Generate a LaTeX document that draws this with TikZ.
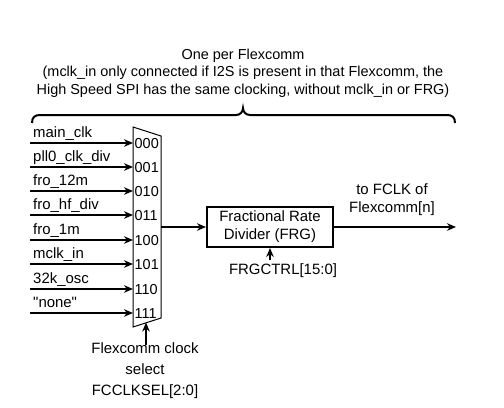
\documentclass[tikz,border=0pt]{standalone}
\usepackage{fontspec}
\setmainfont{Liberation Sans}
\usetikzlibrary{arrows.meta}
\begin{document}
\begin{tikzpicture}[x=1bp,y=-1bp,
  txt/.style={font=\fontsize{14.5}{17.5}\selectfont, inner sep=0pt},
  inlbl/.style={font=\fontsize{15}{18}\selectfont, inner sep=0pt, anchor=base west},
  sel/.style={txt, anchor=west},
  sig/.style={line width=2.4bp, -{Stealth[length=9bp,width=7.5bp]}},
  box/.style={draw, line width=2bp, minimum width=126bp, minimum height=40bp, align=center, font=\fontsize{15}{18}\selectfont, inner sep=0pt}]
\useasboundingbox (0,0) rectangle (504,407);

% header
\node[txt, align=center] (hdr) at (243,73) {One per Flexcomm\\(mclk\_in only connected if I2S is present in that Flexcomm, the\\High Speed SPI has the same clocking, without mclk\_in or FRG)};
\draw[line width=2bp] (32,123) .. controls (32,117) and (35,115) .. (40,115) -- (236,115)
  .. controls (240,115) and (243,112) .. (243,108) .. controls (243,112) and (246,115) .. (250,115)
  -- (447,115) .. controls (452,115) and (455,117) .. (455,123);

% mux
\coordinate (mTL) at (133,127);
\coordinate (mTR) at (161,136);
\coordinate (mBR) at (161,318);
\coordinate (mBL) at (133,327);
\draw[line width=1bp] (mTL) -- (mTR) -- (mBR) -- (mBL) -- cycle;

\foreach \y/\lab/\code [count=\i] in {143/main\_clk/000, 167/pll0\_clk\_div/001, 191/fro\_12m/010, 215/fro\_hf\_div/011, 240/fro\_1m/100, 264/mclk\_in/101, 289/32k\_osc/110, 313/\textquotedbl none\textquotedbl/111}{
  \coordinate (in\i) at (30,\y);
  \coordinate (mi\i) at (133,\y);
  \node[inlbl] (lab\i) at (33,\y-6) {\lab};
  \node[sel] (code\i) at (134.5,\y+0.5) {\code};
  \draw[sig] (in\i) -- (mi\i);
}

% select
\coordinate (selsrc) at (146,345);
\coordinate (seldst) at (146,322.5);
\draw[sig] (selsrc) -- (seldst);
\node[txt, align=center, font=\fontsize{15}{21}\selectfont] (seltxt) at (145,371) {Flexcomm clock\\select\\FCCLKSEL[2:0]};

% FRG
\coordinate (mout) at (161,227);
\node[box] (frg) at (270,227) {Fractional Rate\\Divider (FRG)};
\draw[sig] (mout) -- (frg.west);
\coordinate (ctlsrc) at (270,260);
\draw[sig] (ctlsrc) -- (frg.south);
\node[txt, font=\fontsize{15}{18}\selectfont] (ctl) at (283,271) {FRGCTRL[15:0]};

% output
\coordinate (outend) at (456,227);
\draw[sig] (frg.east) -- (outend);
\node[txt, align=center, font=\fontsize{15}{18}\selectfont] (outlbl) at (392,200) {to FCLK of\\Flexcomm[n]};
\end{tikzpicture}
\end{document}
